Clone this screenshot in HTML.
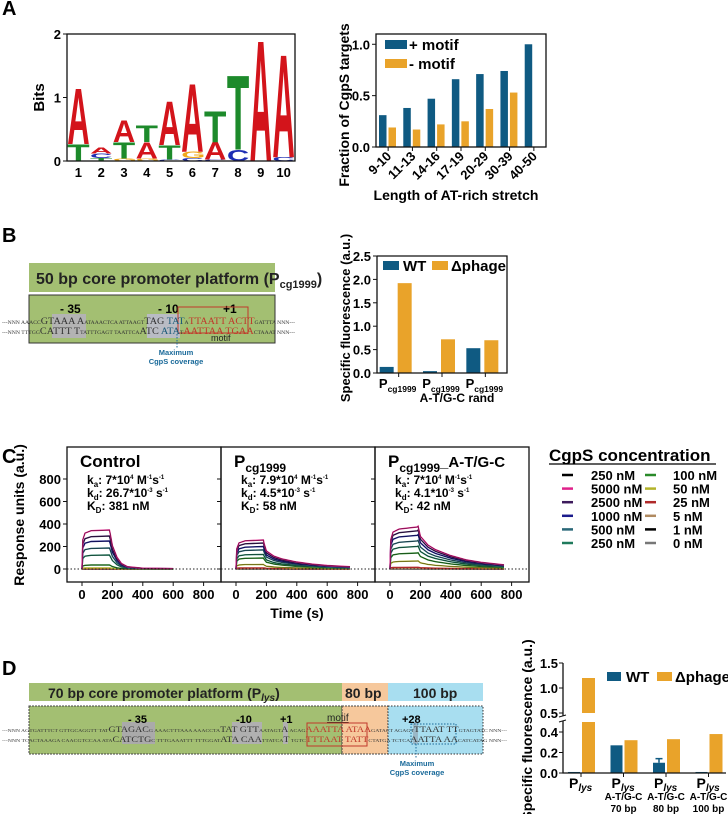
<!DOCTYPE html>
<html><head><meta charset="utf-8">
<style>
html,body{margin:0;padding:0;background:#fff;}
svg{display:block;font-family:"Liberation Sans",Arial,sans-serif;}
.b{font-weight:bold;}
</style></head>
<body>
<svg id="fig" width="728" height="814" viewBox="0 0 728 814" xmlns="http://www.w3.org/2000/svg">
<text x="2" y="15" font-size="20" class="b">A</text>
<text x="2" y="242" font-size="20" class="b">B</text>
<text x="2" y="463" font-size="20" class="b">C</text>
<text x="2" y="675" font-size="20" class="b">D</text>

<g id="logo"></g>
<g id="barA"></g>

<g>
<rect x="29" y="263" width="246" height="29" fill="#a3bf72"/>
<text x="36" y="284" font-size="16" class="b" fill="#222">50 bp core promoter platform (P<tspan font-size="11" dy="4">cg1999</tspan><tspan dy="-4">)</tspan></text>
<rect x="29" y="295" width="246" height="48" fill="#a3bf72" stroke="#333" stroke-width="1"/>
<rect x="52" y="314" width="34" height="24" fill="#b3b3b3"/>
<rect x="147" y="314" width="33" height="24" fill="#b9bcc4"/>
<text x="60" y="313" font-size="12" class="b">- 35</text>
<text x="158" y="313" font-size="12" class="b">- 10</text>
<text x="223" y="313" font-size="12" class="b">+1</text>
<rect x="178" y="307" width="70" height="26" fill="none" stroke="#c0392b" stroke-width="1"/>
<text x="211" y="341" font-size="9" fill="#222">motif</text>
<g font-family="Liberation Serif,serif" fill="#333">
<text x="2" y="324" font-size="5" textLength="293" lengthAdjust="spacingAndGlyphs">---NNN AAACC<tspan font-size="9">GTAAA  A</tspan>ATAAACTCA ATTAAGT<tspan font-size="9">TAG </tspan><tspan font-size="9" fill="#1a5a7a">TAT</tspan>A<tspan font-size="9" fill="#c0392b">TTAATT  ACTT</tspan>GATTTA  NNN---</text>
<text x="2" y="334" font-size="5" textLength="293" lengthAdjust="spacingAndGlyphs">---NNN TTTGG<tspan font-size="9">CATTT  T</tspan>TATTTGAGT TAATTCA<tspan font-size="9">ATC </tspan><tspan font-size="9" fill="#1a5a7a">ATA</tspan>T<tspan font-size="9" fill="#c0392b">AATTAA  TGAA</tspan>CTAAAT  NNN---</text>
</g>
<line x1="177" y1="334" x2="177" y2="349" stroke="#1a6a9a" stroke-dasharray="1.5,1.5"/>
<text x="176" y="355" font-size="7.5" class="b" fill="#1a6a9a" text-anchor="middle">Maximum</text>
<text x="176" y="364" font-size="7.5" class="b" fill="#1a6a9a" text-anchor="middle">CgpS coverage</text>
</g>
<g id="barB"></g>
<g id="spr"></g>

<g>
<text x="549" y="461" font-size="17" class="b">CgpS concentration</text>
<line x1="549" y1="464" x2="716" y2="464" stroke="#000" stroke-width="1.3"/>
<g id="legC"></g>
</g>

<g>
<rect x="29" y="683" width="313" height="18" fill="#a3bf72"/>
<rect x="342" y="683" width="46" height="18" fill="#f6c89c"/>
<rect x="388" y="683" width="95" height="18" fill="#a8def0"/>
<text x="48" y="698" font-size="14" class="b" fill="#222">70 bp core promoter platform (P<tspan font-size="10" font-style="italic" dy="3">lys</tspan><tspan dy="-3">)</tspan></text>
<text x="345" y="698" font-size="14" class="b" fill="#222">80 bp</text>
<text x="413" y="698" font-size="14" class="b" fill="#222">100 bp</text>
<rect x="29" y="706" width="313" height="48" fill="#a3bf72" stroke="#444" stroke-dasharray="2,1"/>
<rect x="342" y="706" width="46" height="48" fill="#f6c89c" stroke="#444" stroke-dasharray="2,1"/>
<rect x="388" y="706" width="95" height="48" fill="#a8def0" stroke="#333" stroke-dasharray="1.5,1.5"/>
<rect x="122" y="722" width="33" height="22" fill="#aaaaaa"/>
<rect x="232" y="722" width="30" height="22" fill="#b0b0b0"/>
<rect x="283" y="722" width="5" height="22" fill="#b0b0b0"/>
<rect x="413" y="722" width="5" height="22" fill="#9ab8c8"/>
<text x="128" y="723" font-size="11" class="b">- 35</text>
<text x="236" y="723" font-size="11" class="b">-10</text>
<text x="280" y="723" font-size="11" class="b">+1</text>
<text x="327" y="721" font-size="10" fill="#222" text-decoration="underline">motif</text>
<text x="402" y="723" font-size="11" class="b">+28</text>
<rect x="307" y="723" width="60" height="23" fill="none" stroke="#c0392b"/>
<rect x="411" y="724" width="45" height="20" fill="none" stroke="#1a6a9a" stroke-dasharray="1.5,1.5"/>
<g font-family="Liberation Serif,serif" fill="#333">
<text x="2" y="732" font-size="4.6" textLength="505" lengthAdjust="spacingAndGlyphs">---NNN AGTGATTTCT GTTGCAGGTT TAT<tspan font-size="8">GTAGAC</tspan>G AAACTTTAAA AAACCTA<tspan font-size="8">TAT  GTT</tspan>AATAGT<tspan font-size="8">A</tspan> ACAG<tspan font-size="8" fill="#c0392b">AAATTA  ATAA</tspan>GATACT AGAGT<tspan font-size="8">TTAAT  TT</tspan>GTAGTATC NNN---</text>
<text x="2" y="742" font-size="4.6" textLength="505" lengthAdjust="spacingAndGlyphs">---NNN TCACTAAAGA CAACGTCCAA ATA<tspan font-size="8">CATCTG</tspan>C TTTGAAATTT TTTGGAT<tspan font-size="8">ATA  CAA</tspan>TTATCA<tspan font-size="8">T</tspan> TGTC<tspan font-size="8" fill="#c0392b">TTTAAT  TATT</tspan>CTATGA TCTCA<tspan font-size="8">AATTA  AA</tspan>CATCATAG NNN---</text>
</g>
<line x1="416" y1="744" x2="416" y2="758" stroke="#1a6a9a" stroke-dasharray="1.5,1.5"/>
<text x="417" y="766" font-size="7.5" class="b" fill="#1a6a9a" text-anchor="middle">Maximum</text>
<text x="417" y="775" font-size="7.5" class="b" fill="#1a6a9a" text-anchor="middle">CgpS coverage</text>
</g>
<g id="barD"></g>
</svg>
<script>
const NS="http://www.w3.org/2000/svg";
function mk(parent,tag,attrs,text){const e=document.createElementNS(NS,tag);for(const k in attrs)e.setAttribute(k,attrs[k]);if(text!==undefined)e.textContent=text;parent.appendChild(e);return e;}
const BLUE="#0f5a82", ORANGE="#e9a32a";

/* ---------- Panel A: sequence logo ---------- */
const logoPositions=["1","2","3","4","5","6","7","8","9","10"];
const logoLetters=[["T","A"],["T","C","A"],["G","T","A"],["G","A","T"],["C","T","A"],["C","G","A"],["C","A","T"],["C","T"],["A"],["C","A"]];
const logoBits=[[0.27,0.9],[0.05,0.07,0.09],[0.04,0.26,0.36],[0.04,0.26,0.27],[0.02,0.23,0.71],[0.05,0.1,1.1],[0.02,0.28,0.5],[0.18,1.2],[1.95],[0.06,1.66]];
const logoTicks=[0,1,2];
(function(){
 const g=document.getElementById("logo");
 const X0=67,X1=295,Y0=161,Y1=34,max=2;
 const y=v=>Y0-(v/max)*(Y0-Y1);
 const step=(X1-X0)/logoPositions.length;
 const xc=i=>X0+step*(i+0.5);
 const col={A:"#d3141b",T:"#1d8a2b",C:"#1d2db3",G:"#f0a81a"};
 logoLetters.forEach((ls,i)=>{let acc=0;ls.forEach((L,j)=>{const h=logoBits[i][j];const yb=y(acc),yt=y(acc+h);acc+=h;
  const w=step*0.98, hh=yb-yt; if(hh<0.3)return;
  const t=mk(g,"text",{x:0,y:0,"font-size":10,"font-weight":"bold",fill:col[L],transform:`translate(${xc(i)-w/2},${yb}) scale(${w/(L==="T"?6.1:7.22)},${hh/7.16})`},L);
  
  
 });});
 const fr=mk(g,"rect",{x:X0,y:Y1,width:X1-X0,height:Y0-Y1,fill:"none",stroke:"#111","stroke-width":1.3});
 
 
 logoTicks.forEach(v=>{mk(g,"line",{x1:X0-4,x2:X0,y1:y(v),y2:y(v),stroke:"#111"});
  const t=mk(g,"text",{x:X0-6,y:y(v)+5,"font-size":13,"font-weight":"bold","text-anchor":"end"},v);
  
  });
 logoPositions.forEach((p,i)=>{const t=mk(g,"text",{x:xc(i),y:177,"font-size":13,"font-weight":"bold","text-anchor":"middle"},p);
  
  });
 const yt=mk(g,"text",{x:0,y:0,"font-size":15,"font-weight":"bold","text-anchor":"middle",transform:`translate(44,${(Y0+Y1)/2}) rotate(-90)`},"Bits");
 
 
})();

/* ---------- Panel A: bar chart ---------- */
const catsA=["9-10","11-13","14-16","17-19","20-29","30-39","40-50"];
const plusMotif=[0.31,0.38,0.47,0.66,0.71,0.74,1.0];
const minusMotif=[0.19,0.17,0.22,0.25,0.37,0.53,null];
const ticksA=["0.0","0.5","1.0"];
(function(){
 const g=document.getElementById("barA");
 const X0=376,X1=546,Y0=147,Y1=34,yr=1.1;
 const y=v=>Y0-(v/yr)*(Y0-Y1);
 const step=(X1-X0)/catsA.length;
 catsA.forEach((c,i)=>{const x=X0+step*i+3;
  const b=mk(g,"rect",{x:x,y:y(plusMotif[i]),width:7.5,height:Y0-y(plusMotif[i]),fill:BLUE});
  
  
  if(minusMotif[i]!=null){const o=mk(g,"rect",{x:x+9.5,y:y(minusMotif[i]),width:7.5,height:Y0-y(minusMotif[i]),fill:ORANGE});
  
  }
  const cx=X0+step*(i+0.5);
  mk(g,"line",{x1:cx,x2:cx,y1:Y0,y2:Y0+4,stroke:"#111"});
  const t=mk(g,"text",{x:0,y:0,"font-size":13,"font-weight":"bold","text-anchor":"end",transform:`translate(${cx+4},${Y0+10}) rotate(-45)`},c);
  
  
 });
 const fr=mk(g,"rect",{x:X0,y:Y1,width:X1-X0,height:Y0-Y1,fill:"none",stroke:"#111","stroke-width":1.3});
 
 
 ticksA.forEach(v=>{mk(g,"line",{x1:X0-4,x2:X0,y1:y(+v),y2:y(+v),stroke:"#111"});
  const t=mk(g,"text",{x:X0-6,y:y(+v)+5,"font-size":13,"font-weight":"bold","text-anchor":"end"},v);
  
  });
 mk(g,"rect",{x:385,y:40,width:22,height:9,fill:BLUE});
 const l1=mk(g,"text",{x:409,y:50,"font-size":15,"font-weight":"bold"},"+ motif");
 
 
 mk(g,"rect",{x:385,y:59,width:22,height:9,fill:ORANGE});
 const l2=mk(g,"text",{x:409,y:69,"font-size":15,"font-weight":"bold"},"- motif");
 
 
 const yt=mk(g,"text",{x:0,y:0,"font-size":14,"font-weight":"bold","text-anchor":"middle",transform:`translate(349,105) rotate(-90)`},"Fraction of CgpS targets");
 
 
 const xt=mk(g,"text",{x:456,y:200,"font-size":14,"font-weight":"bold","text-anchor":"middle"},"Length of AT-rich stretch");
 
 
})();

/* ---------- Panel B bar chart ---------- */
const catsB=["cg1999","cg1999","cg1999"];
const wtB=[0.13,0.04,0.53];
const phageB=[1.92,0.72,0.70];
const ticksB=["0.0","0.5","1.0","1.5","2.0","2.5"];
(function(){
 const g=document.getElementById("barB");
 const X0=377,X1=507,Y0=373,Y1=256,yr=2.5;
 const y=v=>Y0-(v/yr)*(Y0-Y1);
 const step=(X1-X0)/catsB.length;
 catsB.forEach((c,i)=>{const cx=X0+step*(i+0.5);
  const b=mk(g,"rect",{x:cx-19,y:y(wtB[i]),width:14,height:Y0-y(wtB[i]),fill:BLUE});
  
  
  const o=mk(g,"rect",{x:cx-1,y:y(phageB[i]),width:14,height:Y0-y(phageB[i]),fill:ORANGE});
  
  
  mk(g,"line",{x1:cx,x2:cx,y1:Y0,y2:Y0+4,stroke:"#111"});
  const t=mk(g,"text",{x:cx-1,y:Y0+15,"font-size":13,"font-weight":"bold","text-anchor":"middle"},"P");
  mk(t,"tspan",{"font-size":8.5,dy:4},c);
  
  
 });
 const s=mk(g,"text",{x:457,y:402,"font-size":12,"font-weight":"bold","text-anchor":"middle"},"A-T/G-C rand");
 
 
 mk(g,"path",{d:`M${X0},${Y1}V${Y0}H${X1}V${Y1}H${X0}`,fill:"none",stroke:"#111","stroke-width":1.3});
 ticksB.forEach(v=>{mk(g,"line",{x1:X0-4,x2:X0,y1:y(+v),y2:y(+v),stroke:"#111"});
  const t=mk(g,"text",{x:X0-6,y:y(+v)+5,"font-size":13,"font-weight":"bold","text-anchor":"end"},v);
  
  });
 mk(g,"rect",{x:383,y:261,width:16,height:9,fill:BLUE});
 const l1=mk(g,"text",{x:403,y:271,"font-size":15,"font-weight":"bold"},"WT");
 
 
 mk(g,"rect",{x:432,y:261,width:16,height:9,fill:ORANGE});
 const l2=mk(g,"text",{x:451,y:271,"font-size":15,"font-weight":"bold"},"Δphage");
 
 
 const yt=mk(g,"text",{x:0,y:0,"font-size":13,"font-weight":"bold","text-anchor":"middle",transform:`translate(350,318) rotate(-90)`},"Specific fluorescence (a.u.)");
 
 
})();

/* ---------- Panel C sensorgrams ---------- */
const concLabels=["5000 nM","2500 nM","1000 nM","500 nM","250 nM","100 nM","50 nM","25 nM","5 nM","1 nM","0 nM"];
const plateauControl=[347,293,249,187,124,36,10,3,1,0,0];
const plateauP1999=[258,231,200,170,130,98,40,10,3,1,0];
const plateauAT=[373,340,300,250,200,142,71,15,5,2,0];
const timesControl=[0,5,20,60,180,185,200,230,260,300,400,600];
const shapeControl=[0,0.75,0.92,0.98,1.0,0.92,0.6,0.3,0.14,0.06,0.02,0.01];
const timesLong=[0,5,20,60,180,185,200,250,300,400,500,600,750];
const shapeP1999=[0,0.7,0.9,0.97,1.0,0.88,0.62,0.44,0.35,0.24,0.17,0.12,0.08];
const shapeAT=[0,0.7,0.88,0.95,1.0,1.02,0.78,0.57,0.46,0.32,0.22,0.16,0.1];
const sprTicksY=[0,200,400,600,800];
const sprTicksX=[0,200,400,600,800];
const concColors=["#e0218a","#3d1b5c","#1b1b8c","#2a6878","#1f7a5c","#2a8a2a","#b3b32a","#b02a2a","#b08a60","#000000","#777777"];
(function(){
 const g=document.getElementById("spr");
 const Y0=569, pxPer=22.5/200, top=447, bot=582;
 const y=v=>Y0-v*pxPer;
 const panels=[{x0:67,x1:221,z:82,pl:plateauControl,t:timesControl,s:shapeControl,name:"Control",ka:"7*10",kd:"26.7*10",KD:"381 nM"},
  {x0:221,x1:375,z:236,pl:plateauP1999,t:timesLong,s:shapeP1999,name:"P",sub:"cg1999",ka:"7.9*10",kd:"4.5*10",KD:"58 nM"},
  {x0:375,x1:529,z:390,pl:plateauAT,t:timesLong,s:shapeAT,name:"P",sub:"cg1999",tail:"_A-T/G-C",ka:"7*10",kd:"4.1*10",KD:"42 nM"}];
 const pxS=0.152;
 panels.forEach((p,pi)=>{
  const x=t=>p.z+t*pxS;
  for(let c=p.pl.length-1;c>=0;c--){
   const pts=p.t.map((t,k)=>`${x(t).toFixed(1)},${y(p.pl[c]*p.s[k]).toFixed(1)}`).join(" ");
   const l=mk(g,"polyline",{points:pts,fill:"none",stroke:concColors[c],"stroke-width":1.4});
   
   
   if(p.pl[c]>20){mk(g,"polyline",{points:pts,fill:"none",stroke:"#000","stroke-width":0.5,"stroke-opacity":0.7});}
  }
  const fr=mk(g,"rect",{x:p.x0,y:top,width:p.x1-p.x0,height:bot-top,fill:"none",stroke:"#111","stroke-width":1.3});
  
  
  sprTicksX.forEach(v=>{mk(g,"line",{x1:x(v),x2:x(v),y1:bot,y2:bot+4,stroke:"#111"});
   const t=mk(g,"text",{x:x(v),y:bot+17,"font-size":13,"font-weight":"bold","text-anchor":"middle"},v);
   
   });
  sprTicksY.forEach(v=>mk(g,"line",{x1:p.x0-4,x2:p.x0,y1:y(v),y2:y(v),stroke:"#111"}));
  const tt=mk(g,"text",{x:p.x0+13,y:467,"font-size":17,"font-weight":"bold"},p.name);
  if(p.sub){mk(tt,"tspan",{"font-size":12,dy:5},p.sub);}
  if(p.tail){mk(tt,"tspan",{"font-size":15,dy:-5},p.tail);}
  
  
  const kx=p.x0+20;
  const a=mk(g,"text",{x:kx,y:484,"font-size":12,"font-weight":"bold"},"k");
  mk(a,"tspan",{"font-size":8,dy:3},"a");mk(a,"tspan",{dy:-3},": "+p.ka);mk(a,"tspan",{"font-size":6,dy:-5},"4");mk(a,"tspan",{dy:5}," M");mk(a,"tspan",{"font-size":6,dy:-5},"-1");mk(a,"tspan",{dy:5},"s");mk(a,"tspan",{"font-size":6,dy:-5},"-1");
  
  
  const d=mk(g,"text",{x:kx,y:497,"font-size":12,"font-weight":"bold"},"k");
  mk(d,"tspan",{"font-size":8,dy:3},"d");mk(d,"tspan",{dy:-3},": "+p.kd);mk(d,"tspan",{"font-size":6,dy:-5},"-3");mk(d,"tspan",{dy:5}," s");mk(d,"tspan",{"font-size":6,dy:-5},"-1");
  
  
  const K=mk(g,"text",{x:kx,y:510,"font-size":12,"font-weight":"bold"},"K");
  mk(K,"tspan",{"font-size":8,dy:3},"D");mk(K,"tspan",{dy:-3},": "+p.KD);
  
  
 });
 const z=mk(g,"line",{x1:67,x2:529,y1:Y0,y2:Y0,stroke:"#222","stroke-dasharray":"1.5,2"});
 
 
 sprTicksY.forEach(v=>{const t=mk(g,"text",{x:61,y:y(v)+5,"font-size":13,"font-weight":"bold","text-anchor":"end"},v);
  
  });
 const xt=mk(g,"text",{x:297,y:618,"font-size":14,"font-weight":"bold","text-anchor":"middle"},"Time (s)");
 
 
 const yt=mk(g,"text",{x:0,y:0,"font-size":14,"font-weight":"bold","text-anchor":"middle",transform:`translate(24,515) rotate(-90)`},"Response units (a.u.)");
 
 
 const lg=document.getElementById("legC");
 const entries=[["250 nM","#000"]].concat(concLabels.slice(0,5).map((l,i)=>[l,concColors[i]]));
 const entries2=concLabels.slice(5).map((l,i)=>[l,concColors[i+5]]);
 entries.forEach((e,i)=>{const yy=475+i*13.6;
  mk(lg,"line",{x1:562,x2:573,y1:yy,y2:yy,stroke:e[1],"stroke-width":2.5});
  const t=mk(lg,"text",{x:591,y:yy+5,"font-size":13,"font-weight":"bold"},e[0]);
  
  });
 entries2.forEach((e,i)=>{const yy=475+i*13.6;
  mk(lg,"line",{x1:645,x2:656,y1:yy,y2:yy,stroke:e[1],"stroke-width":2.5});
  const t=mk(lg,"text",{x:673,y:yy+5,"font-size":13,"font-weight":"bold"},e[0]);
  
  });
})();

/* ---------- Panel D bar chart (broken axis) ---------- */
const catsD=["","70 bp","80 bp","100 bp"];
const wtD=[0.01,0.27,0.10,0.01];
const wtErrD=[0,0.005,0.04,0];
const phageD=[1.2,0.32,0.33,0.38];
const ticksDLow=["0.0","0.2","0.4"];
const ticksDHigh=["0.5","1.0","1.5"];
(function(){
 const g=document.getElementById("barD");
 const X0=563,X1=726;
 const y=v=>v<=0.45?773-v*102.5:713-(v-0.5)*50;
 const step=42.5, first=581;
 catsD.forEach((c,i)=>{const cx=first+step*i;
  const hb=mk(g,"rect",{x:cx-13,y:y(wtD[i]),width:12,height:773-y(wtD[i]),fill:BLUE});
  
  
  if(wtErrD[i]>0.01){mk(g,"line",{x1:cx-7,x2:cx-7,y1:y(wtD[i]),y2:y(wtD[i]+wtErrD[i]),stroke:BLUE,"stroke-width":1.5});mk(g,"line",{x1:cx-10.5,x2:cx-3.5,y1:y(wtD[i]+wtErrD[i]),y2:y(wtD[i]+wtErrD[i]),stroke:BLUE,"stroke-width":1.5});}
  const v=phageD[i];
  let ob;
  if(v>0.45){ob=mk(g,"rect",{x:cx+1,y:y(v),width:13,height:713-y(v),fill:ORANGE});
   mk(g,"rect",{x:cx+1,y:722,width:13,height:51,fill:ORANGE});}
  else ob=mk(g,"rect",{x:cx+1,y:y(v),width:13,height:773-y(v),fill:ORANGE});
  
  
  mk(g,"line",{x1:cx,x2:cx,y1:773,y2:777,stroke:"#111"});
  const t=mk(g,"text",{x:cx-12,y:788,"font-size":14,"font-weight":"bold"},"P");
  mk(t,"tspan",{"font-size":10,"font-style":"italic",dy:3},"lys");
  
  
  if(c){const a=mk(g,"text",{x:cx,y:800,"font-size":10,"font-weight":"bold","text-anchor":"middle"},"A-T/G-C");
   
   
   const b=mk(g,"text",{x:cx,y:812,"font-size":10,"font-weight":"bold","text-anchor":"middle"},c);
   
   }
 });
 mk(g,"path",{d:`M${X0},663V716M${X0},721V773H${X1}`,fill:"none",stroke:"#111","stroke-width":1.3});
 mk(g,"line",{x1:X0-4,x2:X0+3,y1:717,y2:715,stroke:"#111"});
 mk(g,"line",{x1:X0-4,x2:X0+3,y1:722,y2:720,stroke:"#111"});
 ticksDLow.concat(ticksDHigh).forEach(v=>{mk(g,"line",{x1:X0-4,x2:X0,y1:y(+v),y2:y(+v),stroke:"#111"});
  const t=mk(g,"text",{x:X0-5,y:y(+v)+5,"font-size":13,"font-weight":"bold","text-anchor":"end"},v);
  
  });
 mk(g,"rect",{x:607,y:672,width:14,height:9,fill:BLUE});
 const l1=mk(g,"text",{x:626,y:682,"font-size":15,"font-weight":"bold"},"WT");
 
 
 mk(g,"rect",{x:657,y:672,width:15,height:9,fill:ORANGE});
 const l2=mk(g,"text",{x:675,y:682,"font-size":15,"font-weight":"bold"},"Δphage");
 
 
 const yt=mk(g,"text",{x:0,y:0,"font-size":14,"font-weight":"bold","text-anchor":"middle",transform:`translate(532,730) rotate(-90)`},"Specific fluorescence (a.u.)");
 
 
})();
</script>
</body></html>
